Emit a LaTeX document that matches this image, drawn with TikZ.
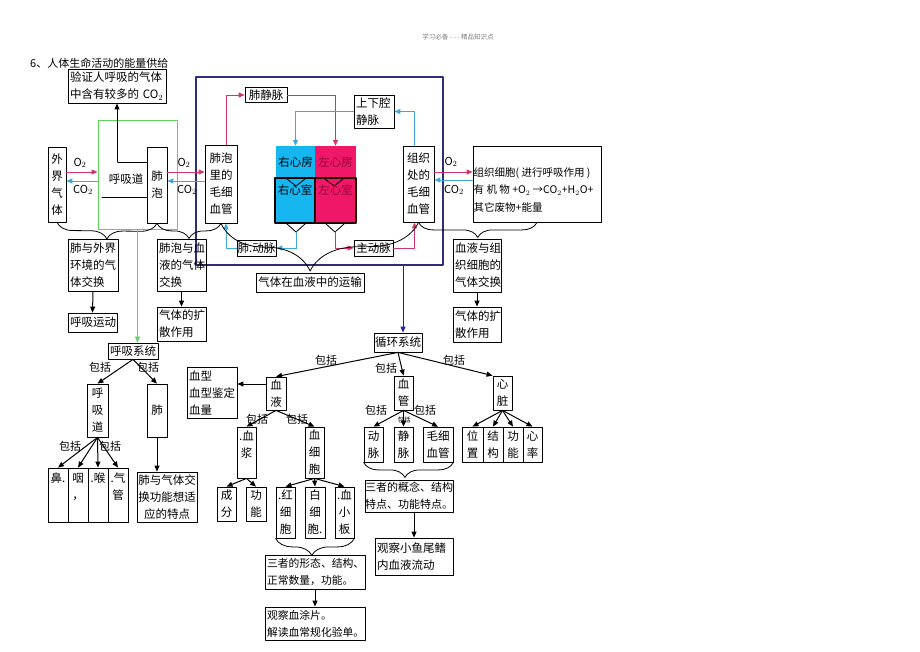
\documentclass[tikz,border=0pt]{standalone}
\usepackage{fontspec}
\setmainfont{Noto Sans CJK SC}
\usetikzlibrary{arrows.meta,decorations.pathreplacing}

\definecolor{redline}{RGB}{212,50,104}
\definecolor{blueline}{RGB}{64,168,216}
\definecolor{cyanfill}{RGB}{22,182,240}
\definecolor{magfill}{RGB}{240,22,104}
\definecolor{darkmag}{RGB}{140,10,55}
\definecolor{navyline}{RGB}{46,46,120}
\definecolor{greenline}{RGB}{90,212,90}
\definecolor{downblue}{RGB}{34,34,170}

\begin{document}
\begin{tikzpicture}
 [x=1pt,y=-1pt,line cap=round,line join=round,
  font=\fontsize{11.5}{17}\selectfont,
  box/.style={draw,line width=0.8pt,inner sep=0pt,align=center},
  lbox/.style={box,align=left,inner xsep=2pt},
  arr/.style={line width=1pt,-{Triangle[length=6pt,width=5pt]}},
  redarr/.style={arr,draw=redline},
  bluearr/.style={arr,draw=blueline},
  gas/.style={font=\fontsize{11}{12}\selectfont,inner sep=0pt},
  incl/.style={font=\fontsize{11}{12}\selectfont,inner sep=0pt},
  brc/.style={decorate,line width=0.8pt,decoration={brace,mirror,amplitude=#1}}]
\useasboundingbox (0,0) rectangle (920,651);
\fill[white] (0,0) rectangle (920,651);

\node[text=gray,font=\fontsize{6.5}{8}\selectfont] (head) at (458,37) {学习必备 - - - 精品知识点};
\node[anchor=west,font=\fontsize{11}{12}\selectfont,inner sep=0pt] (title) at (30,63) {6、人体生命活动的能量供给};

% frames
\node[draw=greenline,line width=1pt,minimum width=79pt,minimum height=109pt,inner sep=0pt] (lvk) at (137.5,174.5) {};
\node[draw=navyline,line width=1.2pt,minimum width=247pt,minimum height=188pt,inner sep=0pt] (nv) at (319.5,171) {};

%% top row
\node[lbox,text width=94pt,minimum height=34pt] (yz) at (117,86) {验证人呼吸的气体\\中含有较多的 CO$_2$};
\node[box,minimum width=18pt,minimum height=75pt] (wj) at (57,184.5) {外\\界\\气\\体};
\node[box,minimum width=20pt,minimum height=76pt] (fp) at (157,185) {肺\\泡};
\node (hxd0) at (126,179) {呼吸道};
\draw[line width=0.8pt] (118,162) -- (fp.west |- 0,162);
\draw[line width=0.8pt] (102,197) -- (fp.west |- 0,197);
\draw[arr] (yz.south |- 0,162) -- (yz.south);

\node[box,minimum width=32pt,minimum height=78pt] (fpmx) at (221,184) {肺泡\\里的\\毛细\\血管};
\node[box,minimum width=42pt,minimum height=15pt] (fjm) at (266,95) {肺静脉};
\node[lbox,text width=36pt,minimum height=33pt] (sxq) at (374,111.5) {上下腔\\静脉};
\node[box,minimum width=31pt,minimum height=76pt] (zzmx) at (418.5,184) {组织\\处的\\毛细\\血管};
\node[box,minimum width=128pt,minimum height=76pt] (zzxb) at (537,184) {};
\node[anchor=west,align=left,inner sep=0pt,font=\fontsize{10.5}{17.5}\selectfont] (zzxbt) at (473.5,190)
 {组织细胞( 进行呼吸作用 )\\有 机 物 +O$_2$ →CO$_2$+H$_2$O+\\其它废物+能量};
\node[box,minimum width=39pt,minimum height=16pt] (fdm) at (256.5,248) {肺.动脉};
\node[box,minimum width=39pt,minimum height=16pt] (zdm) at (373.5,248) {主动脉};

% heart
\node[fill=cyanfill,minimum width=39pt,minimum height=32pt,inner sep=0pt] (yxf) at (295.5,162) {右心房};
\node[fill=magfill,minimum width=41pt,minimum height=32pt,inner sep=0pt,text=darkmag] (zxf) at (335.5,162) {左心房};
\node[fill=cyanfill,draw,line width=2.5pt,minimum width=40pt,minimum height=45pt,inner sep=0pt] (yxs) at (295,200.5) {};
\node[fill=magfill,draw=black!85!red,line width=2.8pt,minimum width=41pt,minimum height=45pt,inner sep=0pt] (zxs) at (335.5,200.5) {};
\node (yxst) at (295,190) {右心室};
\node[text=darkmag] (zxst) at (335.5,190) {左心室};
\draw[line width=0.8pt] (287,179) -- (296,186) -- (305,179);
\draw[line width=0.8pt] (325,179) -- (334,186) -- (343,179);
\draw[line width=0.8pt] (287,224) -- (296,232) -- (305,224);
\draw[line width=0.8pt] (326,224) -- (335,232) -- (344,224);
\coordinate (rv) at (296,232);
\coordinate (lv) at (335,232);

% blood paths
\draw[redarr] ([xshift=5pt]fpmx.north) |- (fjm.west);
\draw[redarr] (fjm.east) -| (zxf.north);
\draw[bluearr] ([xshift=-4pt]zzmx.north) |- (sxq.east);
\draw[bluearr] (sxq.west) -| (yxf.north);
\draw[bluearr] (rv) |- (fdm.east);
\draw[bluearr] (fdm.west) -| ([xshift=5pt]fpmx.south);
\draw[redarr] (lv) |- (zdm.west);
\draw[redarr] (zdm.east) -| ([xshift=-4pt]zzmx.south);

% gas exchange
\draw[redarr] (wj.east |- 0,172) -- (lvk.west |- 0,172);
\draw[bluearr] (lvk.west |- 0,181) -- (wj.east |- 0,181);
\draw[redarr] (fp.east |- 0,172) -- (fpmx.west |- 0,172);
\draw[bluearr] (fpmx.west |- 0,181) -- (fp.east |- 0,181);
\draw[redarr] (zzmx.east |- 0,172) -- (zzxb.west |- 0,172);
\draw[bluearr] (zzxb.west |- 0,180) -- (zzmx.east |- 0,180);
\node[gas] (o2a) at (80,163) {O$_2$};
\node[gas] (co2a) at (83,190) {CO$_2$};
\node[gas] (o2b) at (184,163) {O$_2$};
\node[gas] (co2b) at (187,190) {CO$_2$};
\node[gas] (o2c) at (451,162) {O$_2$};
\node[gas] (co2c) at (454,190) {CO$_2$};

% braces
\draw[brc=16pt] (wj.south) -- (fp.south);
\draw[brc=15pt] (fp.south) -- (fpmx.south);
\draw[brc=48pt,decoration={aspect=0.45}] (fpmx.south) -- (zzmx.south);
\draw[brc=15pt] (zzmx.south) -- (zzxb.south);

\node[lbox,text width=46pt,minimum height=52pt] (fywj) at (93,265) {肺与外界\\环境的气\\体交换};
\node[lbox,text width=45pt,minimum height=19pt] (hxyd) at (92.5,322.5) {呼吸运动};
\node[lbox,text width=45pt,minimum height=52pt] (fpxy) at (181.5,265) {肺泡与血\\液的气体\\交换};
\node[lbox,text width=45pt,minimum height=34pt] (ks1) at (181.5,324) {气体的扩\\散作用};
\node[box,minimum width=108pt,minimum height=19pt] (ysyy) at (310,282.5) {气体在血液中的运输};
\node[lbox,text width=44pt,minimum height=53pt] (xyzz) at (477,265.5) {血液与组\\织细胞的\\气体交换};
\node[lbox,text width=44pt,minimum height=35pt] (ks2) at (477,324.5) {气体的扩\\散作用};
\draw[arr] (fywj.south) -- (hxyd.north);
\draw[arr] (fpxy.south) -- (ks1.north);
\draw[arr] (xyzz.south) -- (ks2.north);

%% respiratory system
\node[box,minimum width=50pt,minimum height=16pt] (hxxt) at (133,351) {呼吸系统};
\draw[line width=1pt,draw=greenline,-{Triangle[length=6pt,width=5pt]}] (lvk.south) -- (lvk.south |- hxxt.north);
\node[box,minimum width=21pt,minimum height=53pt] (hxd) at (97.5,410.5) {呼\\吸\\道};
\node[box,minimum width=20pt,minimum height=53pt] (fei) at (157,410.5) {肺};
\node[box,minimum width=20pt,minimum height=54pt] (bi) at (58,495) {鼻.\\\phantom{鼻}\\\phantom{鼻}};
\node[box,minimum width=20pt,minimum height=54pt] (yan) at (78,495) {咽\\，\\\phantom{鼻}};
\node[box,minimum width=20pt,minimum height=54pt] (hou) at (98,495) {.喉\\\phantom{鼻}\\\phantom{鼻}};
\node[box,minimum width=20pt,minimum height=54pt] (qg) at (118,495) {.气\\管\\\phantom{鼻}};
\node[box,minimum width=60pt,minimum height=50pt] (fjh) at (167,497) {肺与气体交\\换功能想适\\应的特点};
\draw[arr] (hxxt.south) -- (hxd.north);
\draw[arr] (hxxt.south) -- (fei.north);
\draw[arr] (hxd.south) -- (bi.north);
\draw[arr] (hxd.south) -- (yan.north);
\draw[arr] (hxd.south) -- (hou.north);
\draw[arr] (hxd.south) -- (qg.north);
\draw[arr] (fei.south) -- (fjh.north -| fei.south);
\node[incl] (bk1) at (100,367) {包括};
\node[incl] (bk2) at (148,367) {包括};
\node[incl] (bk3) at (70,446) {包括};
\node[incl] (bk4) at (110,446) {包括};

%% circulatory system
\node[box,minimum width=48pt,minimum height=19pt] (xhxt) at (398,342.5) {循环系统};
\draw[line width=1pt,draw=downblue,-{Triangle[length=6pt,width=5pt]}] ([xshift=5pt]xhxt.north |- nv.south) -- ([xshift=5pt]xhxt.north);
\node[lbox,text width=46pt,minimum height=51pt] (xx) at (212,392.5) {血型\\血型鉴定\\血量};
\node[box,minimum width=20pt,minimum height=33pt] (xy) at (276,393.5) {血\\液};
\node[box,minimum width=19pt,minimum height=34pt] (xg) at (403.5,393) {血\\管};
\node[box,minimum width=19pt,minimum height=34pt] (xz) at (502.5,393) {心\\脏};
\draw[arr] (xhxt.south) -- (xy.north);
\draw[arr] (xhxt.south) -- (xg.north);
\draw[arr] (xhxt.south) -- (xz.north west);
\draw[arr] (xy.west |- 0,384) -- (xx.east |- 0,384);
\node[incl] (bk5) at (326,360) {包括};
\node[incl] (bk6) at (386,368) {包括};
\node[incl] (bk7) at (454,360) {包括};

% blood
\node[box,minimum width=19pt,minimum height=51pt] (xj) at (246.5,452.5) {.血\\浆\\\phantom{血}};
\node[box,minimum width=19pt,minimum height=51pt] (xxb) at (314.5,452.5) {血\\细\\胞};
\node[box,minimum width=19pt,minimum height=34pt] (cf) at (226.5,504) {成\\分};
\node[box,minimum width=20pt,minimum height=34pt] (gn) at (256,504) {功\\能};
\node[box,minimum width=19pt,minimum height=51pt] (hxb) at (285.5,512.5) {.红\\细\\胞};
\node[box,minimum width=20pt,minimum height=51pt] (bxb) at (315,512.5) {白\\细\\胞.};
\node[box,minimum width=19pt,minimum height=51pt] (xxbb) at (344.5,512.5) {.血\\小\\板};
\draw[arr] (xy.south) -- (xj.north);
\draw[arr] (xy.south) -- (xxb.north);
\draw[arr] (xj.south) -- (cf.north);
\draw[arr] (xj.south) -- (gn.north);
\draw[arr] (xxb.south) -- (hxb.north);
\draw[arr] (xxb.south) -- (bxb.north);
\draw[arr] (xxb.south) -- (xxbb.north);
\node[incl] (bk8) at (257,419) {包括};
\node[incl] (bk9) at (297,419) {包括};
\draw[brc=17pt,decoration={aspect=0.46}] (hxb.south west) -- (xxbb.south east);
\node[lbox,text width=96pt,minimum height=34pt,font=\fontsize{10.8}{17}\selectfont] (sz1) at (315,572) {三者的形态、结构、\\正常数量，功能。};
\node[lbox,text width=96pt,minimum height=33pt,font=\fontsize{10.8}{17}\selectfont] (gc1) at (315,623.5) {观察血涂片。\\解读血常规化验单。};
\draw[arr] (sz1.south) -- (gc1.north);

% vessels
\node[box,minimum width=19pt,minimum height=35pt] (dm) at (373.5,444.5) {动\\脉};
\node[box,minimum width=19pt,minimum height=35pt] (jm) at (403.5,444.5) {静\\脉};
\node[box,minimum width=30pt,minimum height=35pt] (mxxg) at (438,444.5) {毛细\\血管};
\draw[arr] (xg.south) -- (dm.north);
\draw[arr] (xg.south) -- (jm.north);
\draw[arr] (xg.south) -- (mxxg.north);
\node[incl] (bk10) at (376,410) {包括};
\node[incl] (bk11) at (425,410) {包括};
\node[incl,font=\fontsize{6.5}{7}\selectfont] (bk12) at (404,420) {包括};
\draw[brc=15pt,decoration={aspect=0.46}] (dm.south west) -- (mxxg.south east);
\node[lbox,inner xsep=0pt,text width=88pt,minimum height=32pt,font=\fontsize{11}{17}\selectfont] (sz2) at (409,496) {三者的概念、结构\\特点、功能特点。};
\node[lbox,text width=74pt,minimum height=37pt] (gc2) at (414,556.5) {观察小鱼尾鳍\\内血液流动};
\draw[arr] (sz2.south -| gc2.north) -- (gc2.north);

% heart parts
\node[box,minimum width=21pt,minimum height=35pt] (wz) at (472.5,444.5) {位\\置};
\node[box,minimum width=20pt,minimum height=35pt] (jg) at (493,444.5) {结\\构};
\node[box,minimum width=20pt,minimum height=35pt] (gn2) at (513,444.5) {功\\能};
\node[box,minimum width=19pt,minimum height=35pt] (xl) at (532.5,444.5) {心\\率};
\draw[arr] (xz.south) -- (wz.north);
\draw[arr] (xz.south) -- (jg.north);
\draw[arr] (xz.south) -- (gn2.north);
\draw[arr] (xz.south) -- (xl.north);
\end{tikzpicture}
\end{document}
